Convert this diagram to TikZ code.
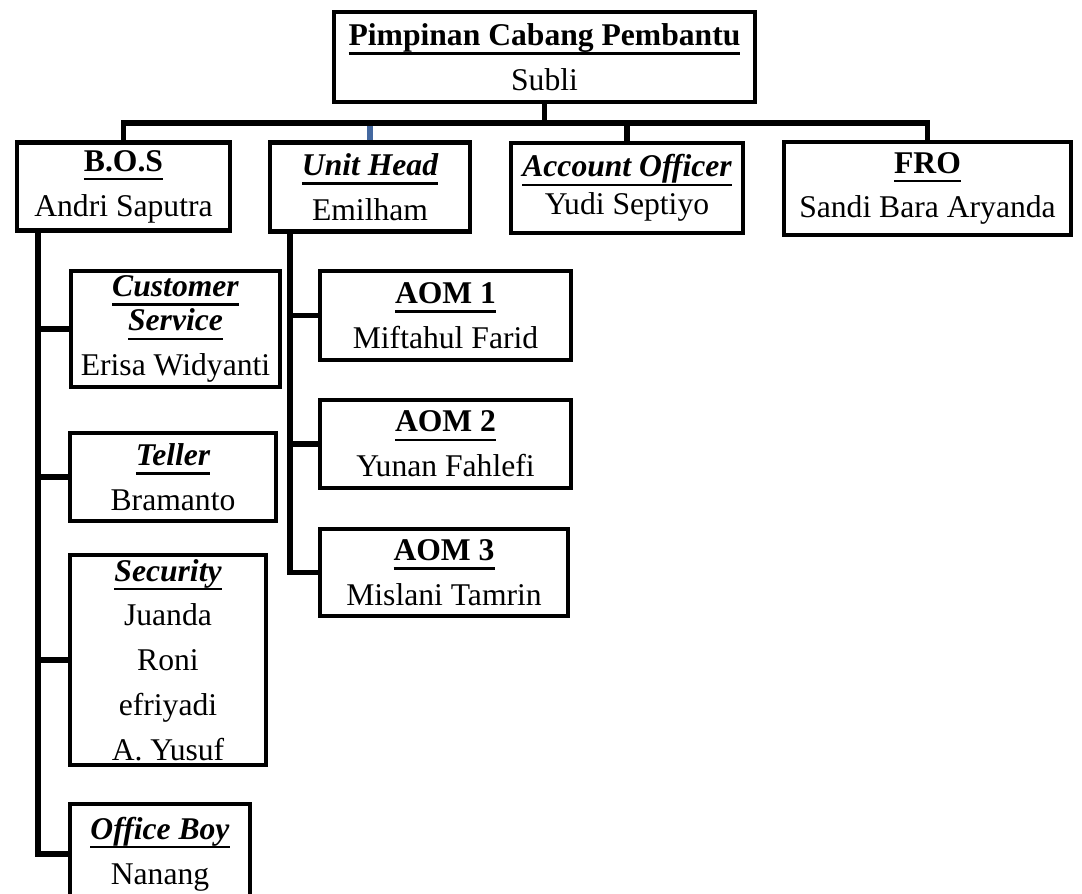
\documentclass[tikz,border=0pt]{standalone}
\usepackage{fontspec}
\setmainfont{Liberation Serif}
\usepackage{tikz}

\newcommand{\gbawah}[1]{\setbox0\hbox{#1}\rlap{\usebox0}\raisebox{-5.2pt}{\rule{\wd0}{1.3pt}}}
\definecolor{birutua}{RGB}{68,104,160}

\begin{document}
\begin{tikzpicture}[x=0.02cm,y=-0.02cm,
    jabatan/.style={draw,line width=2.5pt,align=center,inner sep=0pt,
      font=\fontsize{18}{25.5}\selectfont},
    garis/.style={line width=3.2pt,line join=miter},
    garisbiru/.style={birutua,line width=3.2pt}]
  \useasboundingbox (0,0) rectangle (1082,893);
  \clip (0,0) rectangle (1082,893);

  \node[jabatan,minimum width=8.42cm,minimum height=1.8cm] (pcp) at (544.5,57)
    {\textbf{\gbawah{Pimpinan Cabang Pembantu}}\\ Subli};

  \node[jabatan,minimum width=4.26cm,minimum height=1.76cm] (bos) at (123.5,186.5)
    {\textbf{\gbawah{B.O.S}}\\ Andri Saputra};
  \node[jabatan,minimum width=4.0cm,minimum height=1.78cm] (uh) at (370,187)
    {\textbf{\textit{\gbawah{Unit Head}}}\\ Emilham};
  \node[jabatan,minimum width=4.64cm,minimum height=1.8cm] (ao) at (627,188)
    {\textbf{\textit{\gbawah{Account Officer}}}\\[-4pt] Yudi Septiyo};
  \node[jabatan,minimum width=5.74cm,minimum height=1.86cm] (fro) at (927.5,188.5)
    {\textbf{\gbawah{FRO}}\\ Sandi Bara Aryanda};

  \node[jabatan,minimum width=4.18cm,minimum height=2.32cm] (cs) at (175.5,329)
    {\textbf{\textit{\gbawah{Customer}}}\\[-6pt] \textbf{\textit{\gbawah{Service}}}\\ Erisa Widyanti};
  \node[jabatan,minimum width=4.12cm,minimum height=1.76cm] (teller) at (173,477)
    {\textbf{\textit{\gbawah{Teller}}}\\ Bramanto};
  \node[jabatan,minimum width=3.92cm,minimum height=4.2cm] (sec) at (168,660)
    {\textbf{\textit{\gbawah{Security}}}\\ Juanda\\ Roni\\ efriyadi\\ A. Yusuf};
  \node[jabatan,minimum width=3.6cm,minimum height=2.0cm] (ob) at (160,854)
    {\textbf{\textit{\gbawah{Office Boy}}}\\ Nanang};

  \node[jabatan,minimum width=5.02cm,minimum height=1.78cm] (aom1) at (445.5,315.5)
    {\textbf{\gbawah{AOM 1}}\\ Miftahul Farid};
  \node[jabatan,minimum width=5.02cm,minimum height=1.76cm] (aom2) at (445.5,444)
    {\textbf{\gbawah{AOM 2}}\\ Yunan Fahlefi};
  \node[jabatan,minimum width=4.96cm,minimum height=1.74cm] (aom3) at (444,572.5)
    {\textbf{\gbawah{AOM 3}}\\ Mislani Tamrin};

  % garis ke bawahan langsung
  \coordinate (bus) at (0,123);
  \draw[garisbiru] (uh.north) -- (uh.north |- bus);
  \draw[garis] (pcp.south) -- (pcp.south |- bus);
  \draw[garis] (bos.north) |- (fro.north |- bus) -- (fro.north);
  \draw[garis] (ao.north) -- (ao.north |- bus);

  % garis B.O.S
  \coordinate (bosspine) at ([xshift=0.46cm]bos.south west);
  \draw[garis] (bosspine) |- (ob.west);
  \draw[garis] (bosspine |- cs.west) -- (cs.west);
  \draw[garis] (bosspine |- teller.west) -- (teller.west);
  \draw[garis] (bosspine |- sec.west) -- (sec.west);

  % garis Unit Head
  \coordinate (uhspine) at ([xshift=0.44cm]uh.south west);
  \draw[garis] (uhspine) |- (aom3.west);
  \draw[garis] (uhspine |- aom1.west) -- (aom1.west);
  \draw[garis] (uhspine |- aom2.west) -- (aom2.west);
\end{tikzpicture}
\end{document}
